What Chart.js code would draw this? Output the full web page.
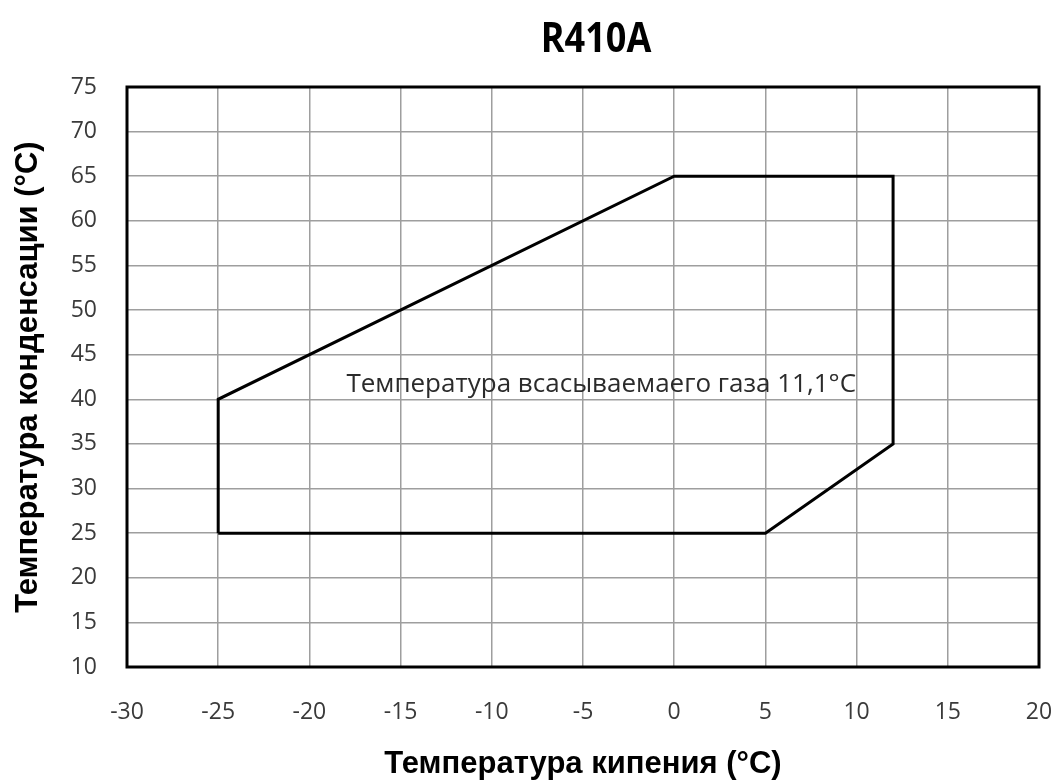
<!DOCTYPE html>
<html>
<head>
<meta charset="utf-8">
<script src="https://cdn.jsdelivr.net/npm/chart.js@4"></script>
<style>
  html, body { margin: 0; padding: 0; background: #fff; }
</style>
</head>
<body>
<canvas id="envelopeChart" width="1056" height="780"></canvas>
<script>
// operating envelope, R410A
const evapTemps = [-25, -25, 0, 12, 12, 5, -25];
const condTemps = [25, 40, 65, 65, 35, 25, 25];
const xTicks = [-30, -25, -20, -15, -10, -5, 0, 5, 10, 15, 20];
const yTicks = [10, 15, 20, 25, 30, 35, 40, 45, 50, 55, 60, 65, 70, 75];
const noteText = "Температура всасываемаего газа 11,1°C";
const notePos = [-4.0, 41.6];

const points = evapTemps.map((x, i) => ({ x, y: condTemps[i] }));

const framePlugin = {
  id: "frame",
  afterDraw(chart) {
    const { ctx, chartArea: a, scales } = chart;
    ctx.save();
    ctx.strokeStyle = "#000";
    ctx.lineWidth = 3;
    ctx.strokeRect(a.left, a.top, a.right - a.left, a.bottom - a.top);

    // annotation inside the envelope
    ctx.fillStyle = "#2b2b2b";
    ctx.font = "26px 'Open Sans'";
    ctx.textAlign = "center";
    ctx.textBaseline = "middle";
    ctx.fillText(noteText, scales.x.getPixelForValue(notePos[0]), scales.y.getPixelForValue(notePos[1]));

    // title, a bit condensed
    ctx.fillStyle = "#000";
    ctx.font = "bold 41px 'Open Sans'";
    ctx.translate(596, 40);
    ctx.scale(0.88, 1);
    ctx.fillText("R410A", 0, 0);
    ctx.restore();
  }
};

new Chart(document.getElementById("envelopeChart").getContext("2d"), {
  type: "scatter",
  data: {
    datasets: [{
      data: points,
      showLine: true,
      borderColor: "#000",
      borderWidth: 3,
      pointRadius: 0,
      fill: false
    }]
  },
  options: {
    responsive: false,
    animation: false,
    devicePixelRatio: 1,
    layout: { padding: { top: 87, right: 17, left: 0, bottom: 0 } },
    plugins: {
      legend: { display: false },
      tooltip: { enabled: false }
    },
    scales: {
      x: {
        type: "linear",
        min: -30,
        max: 20,
        afterBuildTicks: s => { s.ticks = xTicks.map(v => ({ value: v })); },
        afterFit: s => { s.height = 113; s.paddingLeft = 0; s.paddingRight = 0; },
        grid: { color: "#9e9e9e", lineWidth: 1.5, drawTicks: false },
        border: { display: false },
        ticks: { padding: 32, color: "#3a3a3a", font: { family: "Open Sans", size: 23 } },
        title: {
          display: true,
          text: "Температура кипения (°C)",
          color: "#000",
          font: { family: "Liberation Sans", size: 31, weight: "bold", lineHeight: 1 },
          padding: { top: 0, bottom: 0 }
        }
      },
      y: {
        type: "linear",
        min: 10,
        max: 75,
        afterBuildTicks: s => { s.ticks = yTicks.map(v => ({ value: v })); },
        afterFit: s => { s.width = 127; },
        grid: { color: "#9e9e9e", lineWidth: 1.5, drawTicks: false },
        border: { display: false },
        ticks: { padding: 30, color: "#3a3a3a", font: { family: "Open Sans", size: 23 } },
        title: {
          display: true,
          text: "Температура конденсации (°C)",
          color: "#000",
          font: { family: "Liberation Sans", size: 31, weight: "bold", lineHeight: 1 },
          padding: { top: 13, bottom: 0 }
        }
      }
    }
  },
  plugins: [framePlugin]
});
</script>
</body>
</html>
